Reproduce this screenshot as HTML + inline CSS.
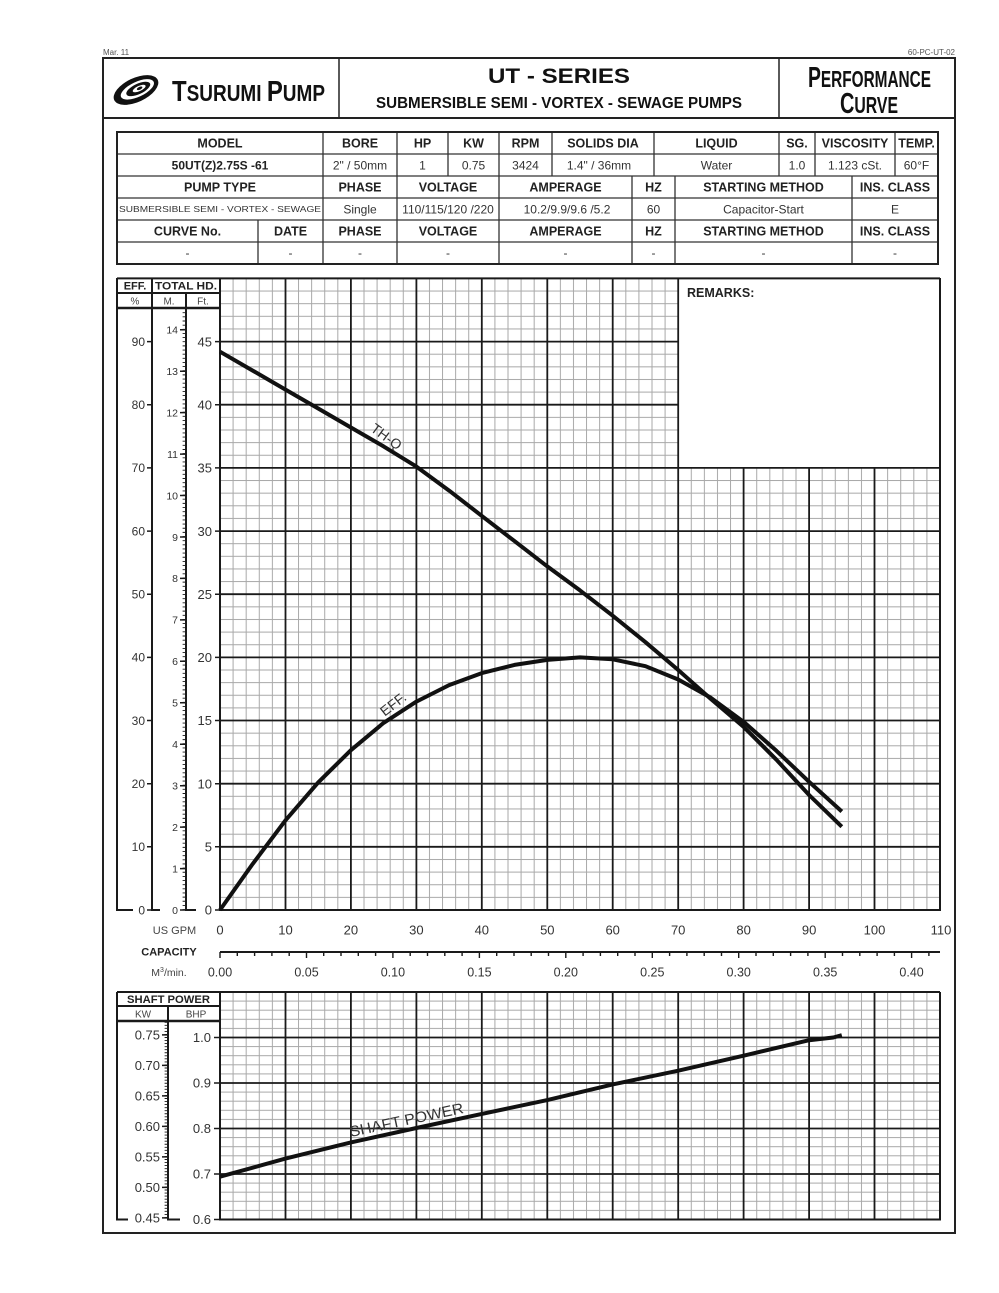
<!DOCTYPE html>
<html><head><meta charset="utf-8"><style>html,body{margin:0;padding:0;background:#fff}svg{display:block}</style></head>
<body>
<svg width="999" height="1293" viewBox="0 0 999 1293" xmlns="http://www.w3.org/2000/svg" font-family="'Liberation Sans', Arial, sans-serif">
<defs>
<pattern id="gm" patternUnits="userSpaceOnUse" x="219.5" y="909.5" width="13.0909" height="12.6316"><rect x="0" y="0" width="1" height="12.6316" fill="#a8a8a8"/><rect x="0" y="0" width="13.0909" height="1" fill="#a8a8a8"/></pattern>
<pattern id="gs" patternUnits="userSpaceOnUse" x="219.5" y="1219" width="13.0909" height="9.1"><rect x="0" y="0" width="1" height="9.1" fill="#a8a8a8"/><rect x="0" y="0" width="13.0909" height="1" fill="#a8a8a8"/></pattern>
</defs>
<rect width="999" height="1293" fill="#fff"/>

<!-- top small text -->
<text x="103" y="55" font-size="8" fill="#555">Mar. 11</text>
<text x="955" y="55" font-size="8" fill="#555" text-anchor="end">60-PC-UT-02</text>

<!-- page border & header -->
<rect x="103" y="58" width="852" height="1175" fill="none" stroke="#222" stroke-width="2"/>
<line x1="103" y1="118" x2="955" y2="118" stroke="#222" stroke-width="2"/>
<line x1="339" y1="58" x2="339" y2="118" stroke="#222" stroke-width="1.5"/>
<line x1="779" y1="58" x2="779" y2="118" stroke="#222" stroke-width="1.5"/>

<g transform="translate(136,90) rotate(-25)">
<ellipse rx="24" ry="12" fill="#111"/>
<ellipse cx="1.5" rx="18" ry="7.5" fill="#fff"/>
<ellipse cx="2.5" rx="13" ry="5.2" fill="#111"/>
<ellipse cx="3.5" rx="7" ry="2.6" fill="#fff"/>
<ellipse cx="4" rx="3" ry="1.4" fill="#111"/>
</g>
<text x="172" y="101" font-weight="bold" fill="#111" textLength="153" lengthAdjust="spacingAndGlyphs"><tspan font-size="29">T</tspan><tspan font-size="23">SURUMI </tspan><tspan font-size="29">P</tspan><tspan font-size="23">UMP</tspan></text>
<text x="488" y="83" font-size="21" font-weight="bold" fill="#111" textLength="142" lengthAdjust="spacingAndGlyphs">UT - SERIES</text>
<text x="376" y="108" font-size="16" font-weight="bold" fill="#111" textLength="366" lengthAdjust="spacingAndGlyphs">SUBMERSIBLE SEMI - VORTEX - SEWAGE PUMPS</text>
<text x="808" y="87" font-weight="bold" fill="#111" textLength="123" lengthAdjust="spacingAndGlyphs"><tspan font-size="29">P</tspan><tspan font-size="23">ERFORMANCE</tspan></text>
<text x="840" y="113" font-weight="bold" fill="#111" textLength="58" lengthAdjust="spacingAndGlyphs"><tspan font-size="29">C</tspan><tspan font-size="23">URVE</tspan></text>

<!-- table -->
<g stroke="#333" stroke-width="1.3" fill="none">
<path d="M117 154H938M117 176H938M117 198H938M117 220H938M117 242H938"/>
<path d="M323 132V176M397 132V176M448 132V176M499 132V176M552 132V176M654 132V176M779 132V176M815 132V176M895 132V176"/>
<path d="M323 176V220M397 176V220M499 176V220M632 176V220M675 176V220M852 176V220"/>
<path d="M258 220V264M323 220V264M397 220V264M499 220V264M632 220V264M675 220V264M852 220V264"/>
</g>
<rect x="117" y="132" width="821" height="132" fill="none" stroke="#222" stroke-width="2"/>
<g font-size="12.5" font-weight="bold" fill="#222" text-anchor="middle">
<text x="220" y="147.5">MODEL</text><text x="360" y="147.5">BORE</text><text x="422.5" y="147.5">HP</text><text x="473.5" y="147.5">KW</text><text x="525.5" y="147.5">RPM</text><text x="603" y="147.5">SOLIDS DIA</text><text x="716.5" y="147.5">LIQUID</text><text x="797" y="147.5">SG.</text><text x="855" y="147.5">VISCOSITY</text><text x="916.5" y="147.5">TEMP.</text>
<text x="220" y="191.5">PUMP TYPE</text><text x="360" y="191.5">PHASE</text><text x="448" y="191.5">VOLTAGE</text><text x="565.5" y="191.5">AMPERAGE</text><text x="653.5" y="191.5">HZ</text><text x="763.5" y="191.5">STARTING METHOD</text><text x="895" y="191.5">INS. CLASS</text>
<text x="187.5" y="235.5">CURVE No.</text><text x="290.5" y="235.5">DATE</text><text x="360" y="235.5">PHASE</text><text x="448" y="235.5">VOLTAGE</text><text x="565.5" y="235.5">AMPERAGE</text><text x="653.5" y="235.5">HZ</text><text x="763.5" y="235.5">STARTING METHOD</text><text x="895" y="235.5">INS. CLASS</text>
<text x="220" y="169.5" font-size="12">50UT(Z)2.75S -61</text>
</g>
<g font-size="12" fill="#333" text-anchor="middle">
<text x="360" y="169.5">2" / 50mm</text><text x="422.5" y="169.5">1</text><text x="473.5" y="169.5">0.75</text><text x="525.5" y="169.5">3424</text><text x="599" y="169.5">1.4" / 36mm</text><text x="716.5" y="169.5">Water</text><text x="797" y="169.5">1.0</text><text x="855" y="169.5">1.123 cSt.</text><text x="916.5" y="169.5">60°F</text>
<text x="220" y="212" font-size="8.5" textLength="202" lengthAdjust="spacingAndGlyphs">SUBMERSIBLE SEMI - VORTEX - SEWAGE</text>
<text x="360" y="213.5">Single</text><text x="448" y="213.5">110/115/120 /220</text><text x="567" y="213.5">10.2/9.9/9.6 /5.2</text><text x="653.5" y="213.5">60</text><text x="763.5" y="213.5">Capacitor-Start</text><text x="895" y="213.5">E</text>
<text x="187.5" y="257">-</text><text x="290.5" y="257">-</text><text x="360" y="257">-</text><text x="448" y="257">-</text><text x="565.5" y="257">-</text><text x="653.5" y="257">-</text><text x="763.5" y="257">-</text><text x="895" y="257">-</text>
</g>

<!-- MAIN CHART -->
<rect x="220" y="278.4" width="720" height="631.6" fill="url(#gm)"/>
<rect x="679" y="278" width="261" height="190" fill="#fff"/>
<g stroke="#1a1a1a" stroke-width="1.8" fill="none">
<path d="M285.5 278V910M350.9 278V910M416.4 278V910M481.8 278V910M547.3 278V910M612.7 278V910M678.2 278V910M743.6 468V910M809.1 468V910M874.5 468V910"/>
<path d="M220 846.8H940M220 783.7H940M220 720.5H940M220 657.4H940M220 594.2H940M220 531.1H940M220 467.9H940M220 404.7H678.2M220 341.6H678.2"/>
</g>
<g stroke="#1a1a1a" stroke-width="2" fill="none">
<path d="M220 278V910H940V278"/>
<path d="M117 278.4H940"/>
<path d="M117 278V910H133"/>
<path d="M152 278V910H160"/>
<path d="M186 293V910H196"/>
<path d="M117 293H220"/>
<path d="M117 308H220" stroke-width="2.4"/>
</g>
<text x="687" y="297" font-size="12.5" font-weight="bold" fill="#222">REMARKS:</text>

<!-- left header -->
<g font-size="11" font-weight="bold" fill="#222" text-anchor="middle">
<text x="135" y="289.5">EFF.</text>
<text x="186" y="289.5" textLength="62" lengthAdjust="spacingAndGlyphs">TOTAL HD.</text>
</g>
<g font-size="10" fill="#444" text-anchor="middle">
<text x="135" y="304.5">%</text><text x="169" y="304.5">M.</text><text x="203" y="304.5">Ft.</text>
</g>

<!-- EFF & Ft ticks -->
<g stroke="#1a1a1a" stroke-width="1.5">
<path d="M147 910H152M147 846.8H152M147 783.7H152M147 720.5H152M147 657.4H152M147 594.2H152M147 531.1H152M147 467.9H152M147 404.7H152M147 341.6H152"/>
<path d="M215 910H220M215 846.8H220M215 783.7H220M215 720.5H220M215 657.4H220M215 594.2H220M215 531.1H220M215 467.9H220M215 404.7H220M215 341.6H220"/>
<path d="M180 910H186M180 868.6H186M180 827.1H186M180 785.7H186M180 744.2H186M180 702.8H186M180 661.3H186M180 619.9H186M180 578.4H186M180 537H186M180 495.5H186M180 454.1H186M180 412.6H186M180 371.2H186M180 329.7H186"/>
</g>
<line x1="184.3" y1="910" x2="184.3" y2="309" stroke="#1a1a1a" stroke-width="3.4" stroke-dasharray="0.9 3.2447"/>
<g font-size="12" fill="#333" text-anchor="end">
<text x="145" y="914.3">0</text><text x="145" y="851.1">10</text><text x="145" y="788">20</text><text x="145" y="724.8">30</text><text x="145" y="661.7">40</text><text x="145" y="598.5">50</text><text x="145" y="535.4">60</text><text x="145" y="472.2">70</text><text x="145" y="409">80</text><text x="145" y="345.9">90</text>
</g>
<g font-size="13" fill="#333" text-anchor="end">
<text x="212" y="914.7">0</text><text x="212" y="851.5">5</text><text x="212" y="788.4">10</text><text x="212" y="725.2">15</text><text x="212" y="662.1">20</text><text x="212" y="598.9">25</text><text x="212" y="535.8">30</text><text x="212" y="472.6">35</text><text x="212" y="409.4">40</text><text x="212" y="346.3">45</text>
</g>
<g font-size="10.5" fill="#333" text-anchor="end">
<text x="178" y="913.8">0</text><text x="178" y="872.4">1</text><text x="178" y="830.9">2</text><text x="178" y="789.5">3</text><text x="178" y="748">4</text><text x="178" y="706.6">5</text><text x="178" y="665.1">6</text><text x="178" y="623.7">7</text><text x="178" y="582.2">8</text><text x="178" y="540.8">9</text><text x="178" y="499.3">10</text><text x="178" y="457.9">11</text><text x="178" y="416.4">12</text><text x="178" y="375">13</text><text x="178" y="333.5">14</text>
</g>

<!-- curves -->
<polyline fill="none" stroke="#111" stroke-width="4" stroke-linejoin="round" points="220,351.7 252.7,370.6 285.5,389.6 318.2,408.5 350.9,427.5 383.6,446.4 416.4,466.6 449.1,490.6 481.8,515.9 514.5,541.1 547.3,566.4 580,590.4 612.7,615.7 645.5,642.2 678.2,670 710.9,699 743.6,726.8 776.4,759.7 809.1,795 841.8,826.7"/>
<polyline fill="none" stroke="#111" stroke-width="4" stroke-linejoin="round" points="220,910 252.7,863.9 285.5,820.3 318.2,782.4 350.9,750.2 383.6,722.9 416.4,701.6 449.1,685.1 481.8,673.1 514.5,664.9 547.3,659.9 580,657.4 612.7,659.3 645.5,666.2 678.2,679.5 710.9,697.8 743.6,721.8 776.4,750.8 809.1,781.8 841.8,811.5"/>
<text transform="translate(386.5,436.5) rotate(36)" font-size="14" fill="#333" text-anchor="middle" dy="5">TH-Q</text>
<text transform="translate(393,704) rotate(-38)" font-size="14" fill="#333" text-anchor="middle" dy="5">EFF.</text>

<!-- X axis labels -->
<g font-size="13" fill="#333" text-anchor="middle">
<text x="220" y="934.5">0</text><text x="285.5" y="934.5">10</text><text x="350.9" y="934.5">20</text><text x="416.4" y="934.5">30</text><text x="481.8" y="934.5">40</text><text x="547.3" y="934.5">50</text><text x="612.7" y="934.5">60</text><text x="678.2" y="934.5">70</text><text x="743.6" y="934.5">80</text><text x="809.1" y="934.5">90</text><text x="874.5" y="934.5">100</text><text x="941" y="934.5">110</text>
</g>
<text x="174.5" y="934" font-size="11" fill="#444" text-anchor="middle">US GPM</text>
<text x="169" y="955.5" font-size="11" font-weight="bold" fill="#222" text-anchor="middle">CAPACITY</text>
<text x="169" y="976" font-size="10.5" fill="#444" text-anchor="middle">M<tspan font-size="7" dy="-4">3</tspan><tspan dy="4">/min.</tspan></text>
<line x1="220" y1="952" x2="940" y2="952" stroke="#1a1a1a" stroke-width="2"/>
<g stroke="#1a1a1a" stroke-width="1.4">
<path d="M220 952V958M237.3 952V956M254.6 952V956M271.9 952V956M289.2 952V956M306.5 952V958M323.7 952V956M341 952V956M358.3 952V956M375.6 952V956M392.9 952V958M410.2 952V956M427.5 952V956M444.8 952V956M462.1 952V956M479.4 952V958M496.7 952V956M514 952V956M531.2 952V956M548.5 952V956M565.8 952V958M583.1 952V956M600.4 952V956M617.7 952V956M635 952V956M652.3 952V958M669.6 952V956M686.9 952V956M704.2 952V956M721.5 952V956M738.7 952V958M756 952V956M773.3 952V956M790.6 952V956M807.9 952V956M825.2 952V958M842.5 952V956M859.8 952V956M877.1 952V956M894.4 952V956M911.6 952V958M928.9 952V956"/>
</g>
<g font-size="12.5" fill="#333" text-anchor="middle">
<text x="220" y="976.5">0.00</text><text x="306.5" y="976.5">0.05</text><text x="392.9" y="976.5">0.10</text><text x="479.4" y="976.5">0.15</text><text x="565.8" y="976.5">0.20</text><text x="652.3" y="976.5">0.25</text><text x="738.7" y="976.5">0.30</text><text x="825.2" y="976.5">0.35</text><text x="911.6" y="976.5">0.40</text>
</g>

<!-- SHAFT POWER PANEL -->
<rect x="220" y="992" width="720" height="227.5" fill="url(#gs)"/>
<g stroke="#1a1a1a" stroke-width="1.8" fill="none">
<path d="M285.5 992V1219.5M350.9 992V1219.5M416.4 992V1219.5M481.8 992V1219.5M547.3 992V1219.5M612.7 992V1219.5M678.2 992V1219.5M743.6 992V1219.5M809.1 992V1219.5M874.5 992V1219.5"/>
<path d="M220 1037.5H940M220 1083H940M220 1128.5H940M220 1174H940"/>
</g>
<g stroke="#1a1a1a" stroke-width="2" fill="none">
<path d="M220 992V1219.5H940V992"/>
<path d="M117 992H940"/>
<path d="M117 992V1219.5H128"/>
<path d="M168 1006V1219.5H180"/>
<path d="M117 1006H220"/>
<path d="M117 1021H220" stroke-width="2.4"/>
</g>
<text x="168.5" y="1003" font-size="11" font-weight="bold" fill="#222" text-anchor="middle" textLength="83" lengthAdjust="spacingAndGlyphs">SHAFT POWER</text>
<text x="143" y="1017.5" font-size="10" fill="#444" text-anchor="middle">KW</text>
<text x="196" y="1017.5" font-size="10" fill="#444" text-anchor="middle">BHP</text>
<g stroke="#1a1a1a" stroke-width="1.5">
<path d="M214 1037.5H220M214 1083H220M214 1128.5H220M214 1174H220M214 1219.5H220"/>
<path d="M162 1034.9H168M162 1065.4H168M162 1095.9H168M162 1126.4H168M162 1156.9H168M162 1187.4H168M162 1217.9H168"/>
</g>
<line x1="166.3" y1="1217.9" x2="166.3" y2="1022" stroke="#1a1a1a" stroke-width="3.4" stroke-dasharray="0.9 2.15"/>
<g font-size="13" fill="#333" text-anchor="end">
<text x="211" y="1042.2">1.0</text><text x="211" y="1087.7">0.9</text><text x="211" y="1133.2">0.8</text><text x="211" y="1178.7">0.7</text><text x="211" y="1224.2">0.6</text>
<text x="160" y="1039.6">0.75</text><text x="160" y="1070.1">0.70</text><text x="160" y="1100.6">0.65</text><text x="160" y="1131.1">0.60</text><text x="160" y="1161.6">0.55</text><text x="160" y="1192.1">0.50</text><text x="160" y="1222.6">0.45</text>
</g>
<polyline fill="none" stroke="#111" stroke-width="4" stroke-linejoin="round" points="220,1176.7 285.5,1158.6 350.9,1142.4 416.4,1128 481.8,1113.9 547.3,1100.1 612.7,1084.4 678.2,1070.7 743.6,1055.7 809.1,1040.2 833.3,1037.5 841.8,1035.2"/>
<text transform="translate(406.5,1120) rotate(-12)" font-size="15" fill="#333" text-anchor="middle" dy="5" textLength="116" lengthAdjust="spacingAndGlyphs">SHAFT POWER</text>
</svg>
</body></html>
